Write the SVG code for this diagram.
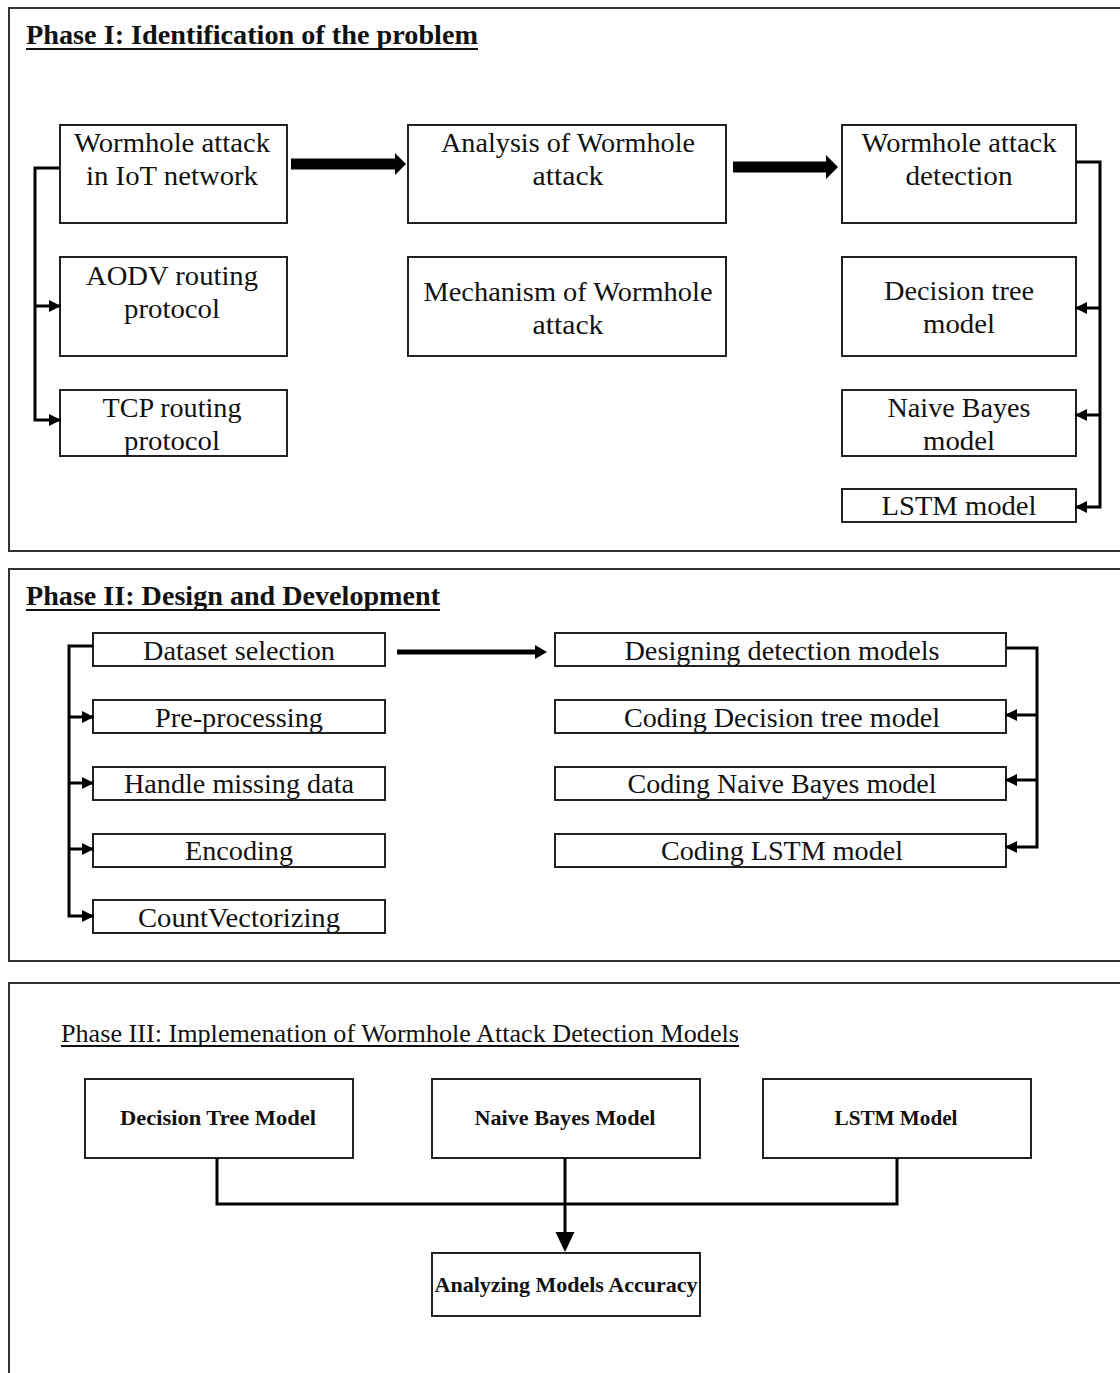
<svg xmlns="http://www.w3.org/2000/svg" width="1120" height="1373" viewBox="0 0 1120 1373" font-family="'Liberation Serif', 'Times New Roman', 'DejaVu Serif', serif">
  <style>
    .frame { fill: none; stroke: #333; stroke-width: 2; }
    .box { fill: #fff; stroke: #222; stroke-width: 2; }
    .lbl { font-family: 'Liberation Serif', 'Times New Roman', serif; font-size: 27px; fill: #111; text-anchor: middle; }
    .lblb { font-family: 'Liberation Serif', 'Times New Roman', serif; font-size: 22px; font-weight: bold; fill: #111; text-anchor: middle; }
    .title { font-family: 'Liberation Serif', 'Times New Roman', serif; font-size: 27px; font-weight: bold; fill: #111; }
    .title3 { font-family: 'Liberation Serif', 'Times New Roman', serif; font-size: 25px; fill: #111; }
    .ul { stroke: #111; stroke-width: 2; }
    .wire { fill: none; stroke: #000; stroke-width: 3; }
  </style>
  <defs>
    <marker id="head" viewBox="0 0 12 12" refX="12" refY="6" markerWidth="12" markerHeight="12" markerUnits="userSpaceOnUse" orient="auto">
      <path d="M0,0 L12,6 L0,12 z" fill="#000"/>
    </marker>
  </defs>

  <!-- phase frames -->
  <rect class="frame" x="9" y="8" width="1130" height="543"/>
  <rect class="frame" x="9" y="569" width="1130" height="392"/>
  <rect class="frame" x="9" y="983" width="1130" height="420"/>

  <!-- phase titles -->
  <g id="title-phase1">
    <text class="title" x="26" y="44" textLength="452" lengthAdjust="spacingAndGlyphs">Phase I: Identification of the problem</text>
    <line class="ul" x1="26" y1="49" x2="478" y2="49"/>
  </g>
  <g id="title-phase2">
    <text class="title" x="26" y="605" textLength="414" lengthAdjust="spacingAndGlyphs">Phase II: Design and Development</text>
    <line class="ul" x1="26" y1="610" x2="440" y2="610"/>
  </g>
  <g id="title-phase3">
    <text class="title3" x="61" y="1042" textLength="678" lengthAdjust="spacingAndGlyphs">Phase III: Implemenation of Wormhole Attack Detection Models</text>
    <line class="ul" x1="61" y1="1046" x2="739" y2="1046"/>
  </g>

  <!-- Phase I nodes -->
  <g id="n-wormhole-iot">
    <rect class="box" x="60" y="125" width="227" height="98"/>
    <text class="lbl" x="172" y="152" textLength="196" lengthAdjust="spacingAndGlyphs">Wormhole attack</text>
    <text class="lbl" x="172" y="185" textLength="172" lengthAdjust="spacingAndGlyphs">in IoT network</text>
  </g>
  <g id="n-aodv">
    <rect class="box" x="60" y="257" width="227" height="99"/>
    <text class="lbl" x="172" y="285" textLength="172" lengthAdjust="spacingAndGlyphs">AODV routing</text>
    <text class="lbl" x="172" y="318" textLength="96" lengthAdjust="spacingAndGlyphs">protocol</text>
  </g>
  <g id="n-tcp">
    <rect class="box" x="60" y="390" width="227" height="66"/>
    <text class="lbl" x="172" y="417" textLength="139" lengthAdjust="spacingAndGlyphs">TCP routing</text>
    <text class="lbl" x="172" y="450" textLength="96" lengthAdjust="spacingAndGlyphs">protocol</text>
  </g>
  <g id="n-analysis">
    <rect class="box" x="408" y="125" width="318" height="98"/>
    <text class="lbl" x="568" y="152" textLength="254" lengthAdjust="spacingAndGlyphs">Analysis of Wormhole</text>
    <text class="lbl" x="568" y="185" textLength="71" lengthAdjust="spacingAndGlyphs">attack</text>
  </g>
  <g id="n-mechanism">
    <rect class="box" x="408" y="257" width="318" height="99"/>
    <text class="lbl" x="568" y="301" textLength="289" lengthAdjust="spacingAndGlyphs">Mechanism of Wormhole</text>
    <text class="lbl" x="568" y="334" textLength="71" lengthAdjust="spacingAndGlyphs">attack</text>
  </g>
  <g id="n-detection">
    <rect class="box" x="842" y="125" width="234" height="98"/>
    <text class="lbl" x="959" y="152" textLength="195" lengthAdjust="spacingAndGlyphs">Wormhole attack</text>
    <text class="lbl" x="959" y="185" textLength="107" lengthAdjust="spacingAndGlyphs">detection</text>
  </g>
  <g id="n-dt">
    <rect class="box" x="842" y="257" width="234" height="99"/>
    <text class="lbl" x="959" y="300" textLength="150" lengthAdjust="spacingAndGlyphs">Decision tree</text>
    <text class="lbl" x="959" y="333" textLength="72" lengthAdjust="spacingAndGlyphs">model</text>
  </g>
  <g id="n-nb">
    <rect class="box" x="842" y="390" width="234" height="66"/>
    <text class="lbl" x="959" y="417" textLength="143" lengthAdjust="spacingAndGlyphs">Naive Bayes</text>
    <text class="lbl" x="959" y="450" textLength="72" lengthAdjust="spacingAndGlyphs">model</text>
  </g>
  <g id="n-lstm">
    <rect class="box" x="842" y="489" width="234" height="33"/>
    <text class="lbl" x="959" y="515" textLength="155" lengthAdjust="spacingAndGlyphs">LSTM model</text>
  </g>

  <!-- Phase II nodes -->
  <g id="n-dataset">
    <rect class="box" x="93" y="633" width="292" height="33"/>
    <text class="lbl" x="239" y="660" textLength="192" lengthAdjust="spacingAndGlyphs">Dataset selection</text>
  </g>
  <g id="n-preprocessing">
    <rect class="box" x="93" y="700" width="292" height="33"/>
    <text class="lbl" x="239" y="727" textLength="168" lengthAdjust="spacingAndGlyphs">Pre-processing</text>
  </g>
  <g id="n-missing">
    <rect class="box" x="93" y="767" width="292" height="33"/>
    <text class="lbl" x="239" y="793" textLength="230" lengthAdjust="spacingAndGlyphs">Handle missing data</text>
  </g>
  <g id="n-encoding">
    <rect class="box" x="93" y="834" width="292" height="33"/>
    <text class="lbl" x="239" y="860" textLength="108" lengthAdjust="spacingAndGlyphs">Encoding</text>
  </g>
  <g id="n-countvec">
    <rect class="box" x="93" y="900" width="292" height="33"/>
    <text class="lbl" x="239" y="927" textLength="202" lengthAdjust="spacingAndGlyphs">CountVectorizing</text>
  </g>
  <g id="n-designing">
    <rect class="box" x="555" y="633" width="451" height="33"/>
    <text class="lbl" x="782" y="660" textLength="315" lengthAdjust="spacingAndGlyphs">Designing detection models</text>
  </g>
  <g id="n-code-dt">
    <rect class="box" x="555" y="700" width="451" height="33"/>
    <text class="lbl" x="782" y="727" textLength="316" lengthAdjust="spacingAndGlyphs">Coding Decision tree model</text>
  </g>
  <g id="n-code-nb">
    <rect class="box" x="555" y="767" width="451" height="33"/>
    <text class="lbl" x="782" y="793" textLength="309" lengthAdjust="spacingAndGlyphs">Coding Naive Bayes model</text>
  </g>
  <g id="n-code-lstm">
    <rect class="box" x="555" y="834" width="451" height="33"/>
    <text class="lbl" x="782" y="860" textLength="242" lengthAdjust="spacingAndGlyphs">Coding LSTM model</text>
  </g>

  <!-- Phase III nodes -->
  <g id="n-dt-model">
    <rect class="box" x="85" y="1079" width="268" height="79"/>
    <text class="lblb" x="218" y="1125" textLength="196" lengthAdjust="spacingAndGlyphs">Decision Tree Model</text>
  </g>
  <g id="n-nb-model">
    <rect class="box" x="432" y="1079" width="268" height="79"/>
    <text class="lblb" x="565" y="1125" textLength="181" lengthAdjust="spacingAndGlyphs">Naive Bayes Model</text>
  </g>
  <g id="n-lstm-model">
    <rect class="box" x="763" y="1079" width="268" height="79"/>
    <text class="lblb" x="896" y="1125" textLength="123" lengthAdjust="spacingAndGlyphs">LSTM Model</text>
  </g>
  <g id="n-accuracy">
    <rect class="box" x="432" y="1253" width="268" height="63"/>
    <text class="lblb" x="566" y="1292" textLength="263" lengthAdjust="spacingAndGlyphs">Analyzing Models Accuracy</text>
  </g>

  <!-- connectors -->
  <g id="connectors">
    <!-- Phase I: thick flow arrows -->
    <path d="M291,158.5 H395 V153 L406,164 L395,175 V169.5 H291 Z" fill="#000"/>
    <path d="M733,161.5 H826 V155 L838,167 L826,179 V172.5 H733 Z" fill="#000"/>
    <!-- Phase I: left bracket -->
    <polyline class="wire" points="60,168 35,168 35,420 61,420" marker-end="url(#head)"/>
    <line class="wire" x1="35" y1="306" x2="61" y2="306" marker-end="url(#head)"/>
    <!-- Phase I: right bracket -->
    <polyline class="wire" points="1076,162 1100,162 1100,507 1075,507" marker-end="url(#head)"/>
    <line class="wire" x1="1100" y1="308" x2="1075" y2="308" marker-end="url(#head)"/>
    <line class="wire" x1="1100" y1="415" x2="1075" y2="415" marker-end="url(#head)"/>

    <!-- Phase II: dataset to models -->
    <line x1="397" y1="652" x2="537" y2="652" stroke="#000" stroke-width="5"/>
    <path d="M535,645 L547,652 L535,659 Z" fill="#000"/>
    <!-- Phase II: left bracket -->
    <polyline class="wire" points="93,646 69,646 69,916 94,916" marker-end="url(#head)"/>
    <line class="wire" x1="69" y1="717" x2="94" y2="717" marker-end="url(#head)"/>
    <line class="wire" x1="69" y1="783" x2="94" y2="783" marker-end="url(#head)"/>
    <line class="wire" x1="69" y1="849" x2="94" y2="849" marker-end="url(#head)"/>
    <!-- Phase II: right bracket -->
    <polyline class="wire" points="1006,648 1037,648 1037,847 1005,847" marker-end="url(#head)"/>
    <line class="wire" x1="1037" y1="715" x2="1005" y2="715" marker-end="url(#head)"/>
    <line class="wire" x1="1037" y1="780" x2="1005" y2="780" marker-end="url(#head)"/>

    <!-- Phase III: merge into accuracy analysis -->
    <polyline class="wire" points="217,1158 217,1204 897,1204 897,1158"/>
    <line class="wire" x1="565" y1="1158" x2="565" y2="1234"/>
    <path d="M555.5,1232 L574.5,1232 L565,1252 Z" fill="#000"/>
  </g>
</svg>
